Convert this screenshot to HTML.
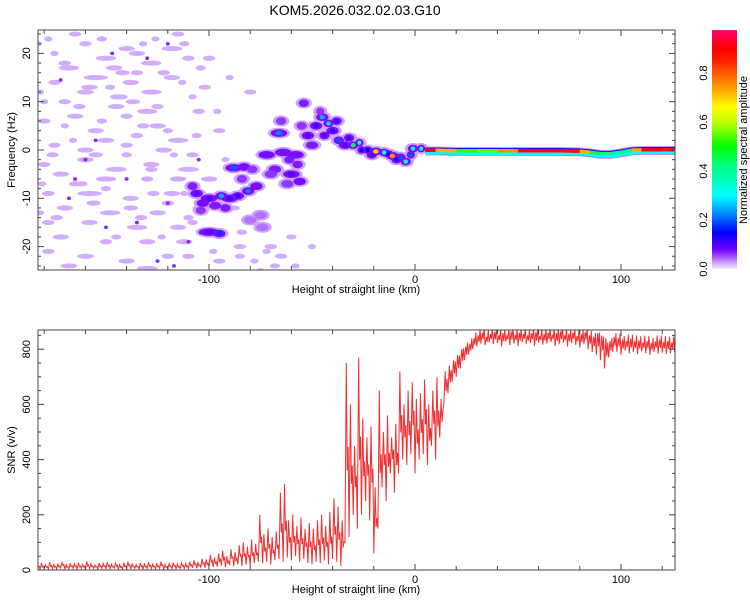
<!DOCTYPE html>
<html><head><meta charset="utf-8"><style>
html,body{margin:0;padding:0;background:#fff}
svg{display:block;font-family:"Liberation Sans",sans-serif}
</style></head><body>
<svg id="chart" width="750" height="600" xmlns="http://www.w3.org/2000/svg">
<defs>
<clipPath id="clipTop"><rect x="38" y="30" width="637" height="240"/></clipPath>
<clipPath id="clipBot"><rect x="38" y="330" width="637" height="240"/></clipPath>
<linearGradient id="cbGrad" x1="0" y1="1" x2="0" y2="0"></linearGradient>
</defs>
<text x="355" y="15" font-size="14" text-anchor="middle">KOM5.2026.032.02.03.G10</text>
<g id="topPanel"></g>
<g id="botPanel"></g>
<g id="cbPanel"></g>
</svg>
<script>
const NS='http://www.w3.org/2000/svg';
// ---- data ----
const xTickLabels=[-100,0,100];
const freqTickLabels=[-20,-10,0,10,20];
const snrTickLabels=[0,200,400,600,800];
const cbTickLabels=[0.0,0.2,0.4,0.6,0.8];
const snrStartKm=-184, snrStepKm=2;
const snrHigh=[22,26,18,28,20,24,30,19,25,22,27,20,32,23,18,26,24,29,21,25,20,27,31,22,19,26,24,28,21,25,30,20,23,27,22,26,24,
30,35,28,40,38,55,45, 60,70,50,75,65,90, 100,85,110,95, 200, 130,150,120,140, 280,311, 180,200,160,190,150,170,
150,180,200,160,210,260,230, 180, 750, 600,450,770, 550,480,520,300, 650, 500,560,480,530, 720, 600,650,680,620,
640,690,600, 650,700,620, 720,740,760,780,800,810,820,840,
850,860,845,855,862,850,858,848,865,852,860,855,850,858,862,848,855,860,852,858,865,850,856,860,848,855,862,850,845,858,850,840,830,845,
840,835,830,838,828,832,825,830,822,828,835,826,830,824,828];
const snrLow=[4,2,6,3,5,2,7,3,4,6,2,5,3,4,6,2,5,3,4,7,3,2,5,4,6,3,2,5,4,3,6,2,5,4,3,6,4,
5,8,6,10,8,12,10, 12,15,10,18,14,20, 15,20,12,25, 30, 25,30,20,35, 40,30, 45,35,50,30,40,25,
20,30,25,35,20,40,30, 15, 100, 120,200,150, 200,250,180,60, 150, 300,250,350,280, 350, 400,380,420,350,
400,420,380, 450,400,480, 600,640,680,700,730,760,780,800,
810,820,815,825,818,822,810,828,815,820,812,826,818,822,810,824,816,820,826,812,818,824,810,822,816,806,818,800,790,780,760,730,770,790,
790,780,795,785,790,782,792,786,780,790,784,788,782,786,790];
const noiseKm=[-178,-160,-140,-126,-115,-175,-150,-135,-118,-168,-146,-128,-110,-175,-155,-138,-118,-102,-160,-128,-108,-180,-170,-145,-130,-105,-165,-140,-125,-180,-170,-155,-135,-115,-175,-160,-140,-122,-108,-180,-160,-145,-128,-110,-172,-150,-130,-115,-178,-158,-138,-118,-170,-148,-125,-105,-178,-158,-135,-115,-172,-150,-130,-112,-178,-160,-140,-120,-168,-130,-95,-85,-90,-80,-95,-92,-75,-65,-100,-112,-145,-165,-120,-150,-135,-182,-100,-88,-70,-60,
-183,-165,-152,-142,-132,-122,-112,-170,-158,-148,-137,-125,-113,-104,-182,-163,-152,-143,-132,-120,-176,-166,-155,-140,-128,-117,-106,-181,-162,-150,-138,-127,-120,-108,-174,-156,-145,-133,-123,-110,-98,-85,-78,-68,-96,-84,-72,-110,-58,-50];
const noiseHz=[23,22,21,23,24,20,19,20,21,17,17,18,19,14,15,14,15,13,12,12,11,10,10,9,8,8,7,7,5,6,5,4,3,2,1,0,1,0,-1,-3,-2,-4,-3,-4,-5,-6,-6,-6,-9,-9,-10,-9,-12,-13,-13,-12,-15,-15,-16,-16,-18,-19,-19,-19,-21,-22,-23,-22,-24,-24.5,-23,-20,15,12,4,-2,-25,-22,-6,-9,11,-7,-11,2,16,-13,19,-12,-20,-18,
22,24,23,16,22,16,22,18,13,13,10,9,14,17,12,9,6,11,5,4,-1,2,-1,-1,-4,-1,3,-7,-7,-8,-12,-9,-11,-15,-14,-11,-18,-14,-18,-22,-21,-22,-23,-24,8,-17,-21,-14,-24,-20];
const noiseLen=[4,6,8,4,6,4,10,8,10,10,8,10,6,6,12,8,8,6,8,10,4,4,6,8,10,6,8,6,8,6,4,8,6,10,6,8,6,8,6,6,8,10,8,10,8,10,6,8,6,12,8,8,8,10,8,6,6,8,10,8,8,6,8,8,6,8,8,6,8,10,6,6,4,6,6,4,4,6,8,4,6,6,6,8,6,4,6,6,6,5,
4,6,5,7,4,6,5,6,8,5,7,6,4,5,4,6,5,7,6,5,6,4,7,5,6,4,5,4,6,5,7,6,4,5,6,7,5,6,4,6,4,5,4,5,4,5,4,5,4,4];
const dotKm=[-172,-147,-120,-130,-160,-110,-135,-150,-168,-140,-105,-155,-125,-117,-120,-165];
const dotHz=[14.5,20,22,19,-2,-19,-15,-16,-10,-6,-2,2,-23,-24,-11,-6];
const ridgeKm=[-106,-103,-100,-97,-94,-90,-86,-81,-77,-88,-83,-100,-95,-75,-74,-72,-66,-64,-58,-60,-56,-54,-52,-48,-45,-42,-40,-37,-34,-30,-27,-23,-19,-15,-11,-7,-4.5,-1,3,-68,-62,-50,-80,
-108,-92,-84,-70,-61,-57,-46,-44,-38,-32,-26,-21,-13,-9,-2,-104,-79,-65,-55];
const ridgeHz=[-9,-11,-10,-11.5,-9.5,-10,-9.5,-8.5,-7.5,-3.7,-3.5,-17,-17.3,-13.5,-16,-1,3.5,-0.5,-1,-5,-6.5,9.7,3,5,6.8,5.5,4,2,1,1,1.5,0,-0.3,-0.5,-1.2,-1.5,-2.4,0.3,0.3,-4,-7,1,-14.5,
-7.5,-12,-6,-5,-2,-3,8,3,6,2.5,0,-1,-0.8,-2,-1,-12.5,-4,6,5];
const ridgeAmp=[0.1,0.08,0.1,0.07,0.25,0.1,0.12,0.22,0.08,0.2,0.08,0.1,0.18,0.04,0.04,0.08,0.22,0.08,0.08,0.1,0.08,0.07,0.1,0.12,0.25,0.28,0.12,0.2,0.1,0.45,0.35,0.15,0.7,0.3,0.75,0.2,0.3,0.3,0.35,0.07,0.06,0.07,0.04,
0.07,0.07,0.06,0.06,0.07,0.07,0.06,0.1,0.12,0.12,0.15,0.1,0.15,0.12,0.2,0.06,0.06,0.06,0.06];
const ridgeLen=[6,6,8,6,6,8,6,6,6,8,6,10,6,6,6,8,8,8,8,8,6,5,6,6,6,5,6,5,6,5,4,5,6,5,6,5,5,5,4,6,6,6,6,
5,5,5,6,5,5,4,5,5,5,4,5,5,5,4,5,5,5,5];
const lineKm=[5,10,20,30,40,50,60,70,80,85,90,95,100,105,110,115,120,126];
const lineHz=[-0.2,-0.2,-0.3,-0.3,-0.3,-0.3,-0.3,-0.3,-0.4,-0.6,-0.9,-0.9,-0.6,-0.2,-0.1,-0.1,-0.1,-0.1];
const lineAmp=[0.95,0.9,0.55,0.5,0.6,0.9,0.92,0.9,0.85,0.6,0.3,0.5,0.3,0.55,0.9,0.93,0.9,0.85];

const X0=38,X1=675;
const xs=k=>415+k*2.06;
const ysF=h=>150-h*4.83;
const ysS=v=>570-v*0.276;
const ysC=a=>269-a*245;
const stops=[[0,'#f2eaff'],[0.02,'#d6b4ff'],[0.05,'#a050ff'],[0.08,'#7000ff'],[0.15,'#0000ff'],[0.22,'#0080ff'],[0.3,'#00ffff'],[0.42,'#00ff80'],[0.5,'#00ff00'],[0.6,'#c0ff00'],[0.66,'#ffff00'],[0.75,'#ff9000'],[0.85,'#ff2000'],[0.9,'#ff0000'],[1,'#ff0090']];
function hex(c){return [1,3,5].map(i=>parseInt(c.substr(i,2),16));}
function color(a){
  a=Math.max(0,Math.min(1,a));
  for(let i=1;i<stops.length;i++){ if(a<=stops[i][0]){
    const a0=stops[i-1][0],c0=stops[i-1][1],a1=stops[i][0],c1=stops[i][1];const t=(a-a0)/(a1-a0);
    const p=hex(c0),q=hex(c1);return 'rgb('+p.map((v,j)=>Math.round(v+(q[j]-v)*t)).join(',')+')';}}
  return stops[stops.length-1][1];
}
function mk(tag,attrs,parent){const e=document.createElementNS(NS,tag);for(const k in attrs)e.setAttribute(k,attrs[k]);parent.appendChild(e);return e;}

const topG=document.getElementById('topPanel');
const tg=mk('g',{'clip-path':'url(#clipTop)'},topG);
for(let i=0;i<noiseKm.length;i++){
  const e=mk('ellipse',{cx:xs(noiseKm[i]),cy:ysF(noiseHz[i]),rx:noiseLen[i]*1.03,ry:2.6,fill:color(0.022)},tg);
  
  
}
for(let i=0;i<dotKm.length;i++){
  const e=mk('ellipse',{cx:xs(dotKm[i]),cy:ysF(dotHz[i]),rx:2,ry:1.8,fill:color(0.065)},tg);
  
  
}
const ord=ridgeKm.map((_,i)=>i);
for(const i of ord){
  const e=mk('ellipse',{cx:xs(ridgeKm[i]),cy:ysF(ridgeHz[i]),rx:ridgeLen[i]*1.03+3,ry:5.5,fill:color(0.025)},tg);
  
  
}
for(const i of ord){
  const e=mk('ellipse',{cx:xs(ridgeKm[i]),cy:ysF(ridgeHz[i]),rx:ridgeLen[i]*1.03,ry:3.8,fill:color(Math.min(ridgeAmp[i],0.075))},tg);
  
  
}
ord.sort((a,b)=>ridgeAmp[a]-ridgeAmp[b]);
for(const i of ord){
  if(ridgeAmp[i]<0.1) continue;
  const e=mk('ellipse',{cx:xs(ridgeKm[i]),cy:ysF(ridgeHz[i]),rx:Math.max(2,ridgeLen[i]*0.45),ry:2.2,fill:color(ridgeAmp[i])},tg);
  
  
}
const lpts=lineKm.map((k,i)=>xs(k)+','+ysF(lineHz[i])).join(' ');
const lptsLow=lineKm.map((k,i)=>xs(k)+','+(ysF(lineHz[i])+1.5)).join(' ');
[[0.03,9,lpts],[0.12,7,lpts],[0.3,4,lptsLow]].forEach(([a,w,p])=>{
  const e=mk('polyline',{points:p,fill:'none',stroke:color(a),'stroke-width':w,'stroke-linejoin':'round'},tg);
  
  
});
for(let i=0;i<lineKm.length-1;i++){
  const e=mk('line',{x1:xs(lineKm[i]),y1:ysF(lineHz[i])-0.7,x2:xs(lineKm[i+1]),y2:ysF(lineHz[i+1])-0.7,stroke:color((lineAmp[i]+lineAmp[i+1])/2),'stroke-width':3.5},tg);
  
  
}

function frame(g,yTop,yBot,name){
  const r=mk('rect',{x:X0,y:yTop,width:X1-X0,height:yBot-yTop,fill:'none',stroke:'#444','stroke-width':1},g);
  
  
  for(let k=-180;k<=120;k+=20){
    const x=xs(k);const L=(k%100===0)?6:4;
    mk('line',{x1:x,y1:yBot,x2:x,y2:yBot-L,stroke:'#444'},g);
    mk('line',{x1:x,y1:yTop,x2:x,y2:yTop+L,stroke:'#444'},g);
  }
  xTickLabels.forEach(v=>{
    const t=mk('text',{x:xs(v),y:yBot+13,'font-size':11,'text-anchor':'middle'},g);t.textContent=v;
    
    
  });
  const t=mk('text',{x:356,y:yBot+23,'font-size':11,'text-anchor':'middle'},g);t.textContent='Height of straight line (km)';
  
  
}
frame(topG,30,270,'spectrogram-frame');
for(let h=-24;h<=24;h+=2){
  const y=ysF(h);const L=(h%10===0)?6:3;
  mk('line',{x1:X0,y1:y,x2:X0+L,y2:y,stroke:'#444'},topG);
  mk('line',{x1:X1,y1:y,x2:X1-L,y2:y,stroke:'#444'},topG);
}
freqTickLabels.forEach(v=>{
  const y=ysF(v);
  const t=mk('text',{x:0,y:0,'font-size':11,'text-anchor':'middle',transform:`translate(30,${y}) rotate(-90)`},topG);t.textContent=v;
  
  
});
{const t=mk('text',{x:0,y:0,'font-size':11,'text-anchor':'middle',transform:'translate(15,150) rotate(-90)'},topG);t.textContent='Frequency (Hz)';

}

const botG=document.getElementById('botPanel');
const bg=mk('g',{'clip-path':'url(#clipBot)'},botG);
let pts=[];
for(let i=0;i<snrHigh.length;i++){
  const k=snrStartKm+i*snrStepKm;
  const mid=(snrHigh[i]+snrLow[i])/2;
  pts.push(xs(k)+','+ysS(snrLow[i]));
  pts.push(xs(k+snrStepKm*0.33)+','+ysS(snrHigh[i]));
  pts.push(xs(k+snrStepKm*0.55)+','+ysS(mid*0.8+snrLow[i]*0.2));
  pts.push(xs(k+snrStepKm*0.78)+','+ysS(mid*1.05));
}
{const e=mk('polyline',{points:pts.join(' '),fill:'none',stroke:'#f03030','stroke-width':1},bg);

}
frame(botG,330,570,'snr-frame');
for(let v=0;v<=850;v+=50){
  const y=ysS(v);const L=(v%200===0)?6:3;
  mk('line',{x1:X0,y1:y,x2:X0+L,y2:y,stroke:'#444'},botG);
  mk('line',{x1:X1,y1:y,x2:X1-L,y2:y,stroke:'#444'},botG);
}
snrTickLabels.forEach(v=>{
  const t=mk('text',{x:0,y:0,'font-size':11,'text-anchor':'middle',transform:`translate(30,${ysS(v)}) rotate(-90)`},botG);t.textContent=v;
  
  
});
{const t=mk('text',{x:0,y:0,'font-size':11,'text-anchor':'middle',transform:'translate(15,450) rotate(-90)'},botG);t.textContent='SNR (v/v)';

}

const cbTop=0.975;
const grad=document.getElementById('cbGrad');
stops.forEach(([a,c])=>{ if(a<=cbTop) mk('stop',{offset:a/cbTop,'stop-color':c},grad);});
mk('stop',{offset:1,'stop-color':color(cbTop)},grad);
const cbG=document.getElementById('cbPanel');
{const r=mk('rect',{x:712,y:ysC(cbTop),width:25,height:ysC(0)-ysC(cbTop),fill:'url(#cbGrad)'},cbG);

}
cbTickLabels.forEach(v=>{
  const t=mk('text',{x:0,y:0,'font-size':11,'text-anchor':'middle',transform:`translate(707,${ysC(v)}) rotate(-90)`},cbG);t.textContent=v.toFixed(1);
  
  
});
{const t=mk('text',{x:0,y:0,'font-size':11,'text-anchor':'middle',transform:'translate(747,150) rotate(-90)'},cbG);t.textContent='Normalized spectral amplitude';

}
</script>
</body></html>
